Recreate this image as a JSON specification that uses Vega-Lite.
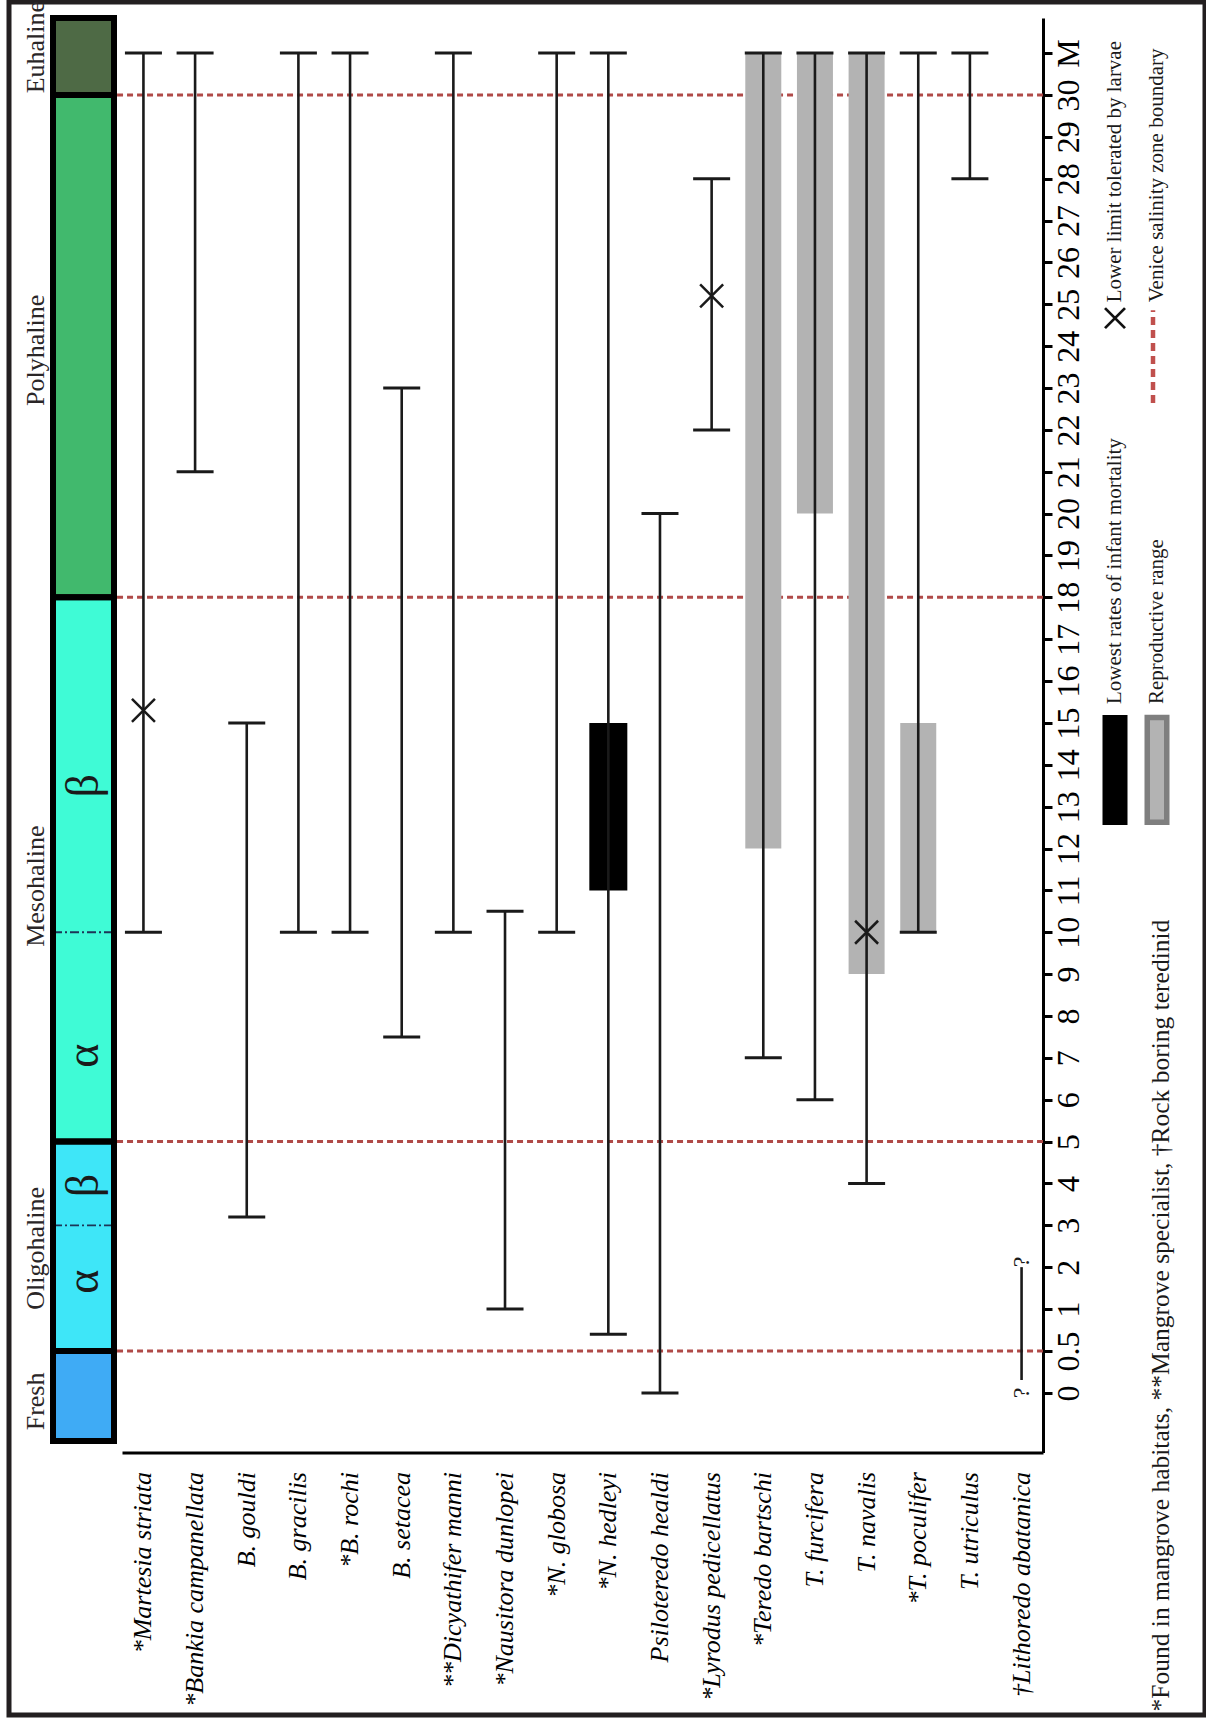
{
  "$schema": "https://vega.github.io/schema/vega-lite/v6.json",
  "width": 1196,
  "height": 1713,
  "autosize": {"type": "none"},
  "padding": {"left": 9, "top": 2, "right": 1, "bottom": 10},
  "background": "white",
  "config": {
    "view": {"stroke": "#231f20", "strokeWidth": 5},
    "font": "Liberation Serif"
  },
  "datasets": {
    "zones": [
      {"zone": "Fresh", "lo": -0.57, "hi": 0.5, "mid": -0.1},
      {"zone": "Oligohaline", "lo": 0.5, "hi": 5, "mid": 2.45},
      {"zone": "Mesohaline", "lo": 5, "hi": 18, "mid": 11.1},
      {"zone": "Polyhaline", "lo": 18, "hi": 30, "mid": 23.9},
      {"zone": "Euhaline", "lo": 30, "hi": 39.2, "mid": 35.7}
    ],
    "subzones": [
      {"zone": "Oligohaline", "sub": "α", "lo": 0.5, "hi": 3, "mid": 1.65},
      {"zone": "Oligohaline", "sub": "β", "lo": 3, "hi": 5, "mid": 3.95},
      {"zone": "Mesohaline", "sub": "α", "lo": 5, "hi": 10, "mid": 7.05},
      {"zone": "Mesohaline", "sub": "β", "lo": 10, "hi": 18, "mid": 13.5}
    ],
    "species": [
      {"species": "*Martesia striata", "lo": 10, "hi": 35},
      {"species": "*Bankia campanellata", "lo": 21, "hi": 35},
      {"species": "B. gouldi", "lo": 3.2, "hi": 15},
      {"species": "B. gracilis", "lo": 10, "hi": 35},
      {"species": "*B. rochi", "lo": 10, "hi": 35},
      {"species": "B. setacea", "lo": 7.5, "hi": 23},
      {"species": "**Dicyathifer manni", "lo": 10, "hi": 35},
      {"species": "*Nausitora dunlopei", "lo": 1, "hi": 10.5},
      {"species": "*N. globosa", "lo": 10, "hi": 35},
      {"species": "*N. hedleyi", "lo": 0.7, "hi": 35},
      {"species": "Psiloteredo healdi", "lo": 0, "hi": 20},
      {"species": "*Lyrodus pedicellatus", "lo": 22, "hi": 28},
      {"species": "*Teredo bartschi", "lo": 7, "hi": 35},
      {"species": "T. furcifera", "lo": 6, "hi": 35},
      {"species": "T. navalis", "lo": 4, "hi": 35},
      {"species": "*T. poculifer", "lo": 10, "hi": 35},
      {"species": "T. utriculus", "lo": 28, "hi": 35},
      {"species": "†Lithoredo abatanica", "lo": 0, "hi": 2}
    ],
    "reproduction": [
      {"species": "*Teredo bartschi", "lo": 12, "hi": 35},
      {"species": "T. furcifera", "lo": 20, "hi": 35},
      {"species": "T. navalis", "lo": 9, "hi": 35},
      {"species": "*T. poculifer", "lo": 10, "hi": 15}
    ],
    "mortality": [
      {"species": "*N. hedleyi", "lo": 11, "hi": 15}
    ],
    "larvae": [
      {"species": "*Martesia striata", "value": 15.3},
      {"species": "*Lyrodus pedicellatus", "value": 25.2},
      {"species": "T. navalis", "value": 10}
    ],
    "legend": [
      {"key": "mortality", "label": "Lowest rates of infant mortality"},
      {"key": "repro", "label": "Reproductive range"},
      {"key": "larvae", "label": "Lower limit tolerated by larvae"},
      {"key": "venice", "label": "Venice salinity zone boundary"},
      {"key": "note", "label": "*Found in mangrove habitats, **Mangrove specialist, †Rock boring teredinid"}
    ]
  },
  "resolve": {"scale": {"x": "independent", "y": "independent"}},
  "layer": [
    {
      "layer": [
        {
          "data": {"name": "zones"},
          "mark": {"type": "rect"},
          "encoding": {
            "x": {"datum": 0, "type": "quantitative", "scale": {"domain": [0, 1], "range": [44, 105], "nice": false, "zero": false}, "axis": null},
            "x2": {"datum": 1},
            "y": {"field": "lo", "type": "quantitative", "title": null, "axis": null,
                  "scale": {"domain": [-0.705, 0, 0.5, 1, 30, 35, 39.2], "range": [1450.5, 1391, 1349, 1307, 93, 51, 16], "nice": false, "zero": false}},
            "y2": {"field": "hi"},
            "color": {"field": "zone", "type": "nominal", "legend": null,
                      "scale": {"domain": ["Fresh", "Oligohaline", "Mesohaline", "Polyhaline", "Euhaline"],
                                "range": ["#3fabf5", "#3ee6f8", "#3ffbd6", "#41b96d", "#4e6a45"]}}
          }
        },
        {
          "data": {"name": "subzones"},
          "transform": [{"filter": "datum.sub === 'β'"}],
          "mark": {"type": "rule", "stroke": "#1d3557", "strokeWidth": 1.8, "strokeDash": [9, 3, 2, 3]},
          "encoding": {
            "x": {"datum": 0},
            "x2": {"datum": 1},
            "y": {"field": "lo", "type": "quantitative", "title": null}
          }
        },
        {
          "data": {"name": "zones"},
          "mark": {"type": "rect", "filled": false, "stroke": "black", "strokeWidth": 6},
          "encoding": {
            "x": {"datum": 0},
            "x2": {"datum": 1},
            "y": {"field": "lo", "type": "quantitative", "title": null},
            "y2": {"field": "hi"}
          }
        },
        {
          "data": {"name": "zones"},
          "mark": {"type": "text", "angle": -90, "align": "center", "baseline": "alphabetic", "dy": -9.5,
                   "font": "Liberation Serif", "fontSize": 26, "color": "#2a2627"},
          "encoding": {
            "x": {"datum": 0},
            "y": {"field": "mid", "type": "quantitative", "title": null},
            "text": {"field": "zone"}
          }
        },
        {
          "data": {"name": "subzones"},
          "mark": {"type": "text", "angle": -90, "align": "center", "baseline": "middle",
                   "font": "Liberation Serif", "fontSize": 46, "color": "#1a1a1a"},
          "encoding": {
            "x": {"datum": 0.5},
            "y": {"field": "mid", "type": "quantitative", "title": null},
            "text": {"field": "sub"}
          }
        }
      ]
    },
    {
      "layer": [
        {
          "data": {"name": "zones"},
          "transform": [{"filter": "datum.lo > 0"}],
          "mark": {"type": "rule", "stroke": "#b04a48", "strokeWidth": 3, "strokeDash": [6, 4], "xOffset": -26.4, "x2Offset": 21.4},
          "encoding": {
            "x": {"datum": "*Martesia striata", "type": "nominal",
                  "scale": {"type": "band",
                            "domain": ["*Martesia striata", "*Bankia campanellata", "B. gouldi", "B. gracilis", "*B. rochi", "B. setacea", "**Dicyathifer manni", "*Nausitora dunlopei", "*N. globosa", "*N. hedleyi", "Psiloteredo healdi", "*Lyrodus pedicellatus", "*Teredo bartschi", "T. furcifera", "T. navalis", "*T. poculifer", "T. utriculus", "†Lithoredo abatanica"],
                            "range": [113, 1034], "paddingInner": 0.17, "paddingOuter": 0},
                  "axis": {"orient": "bottom", "offset": -262.5, "title": null, "ticks": false, "tickSize": 0,
                           "domain": true, "domainColor": "black", "domainWidth": 3,
                           "labelAngle": -90, "labelAlign": "right", "labelBaseline": "middle", "labelPadding": 19,
                           "labelFont": "Liberation Serif", "labelFontStyle": "italic", "labelFontSize": 26,
                           "labelColor": "black", "labelLimit": 500, "grid": false}},
            "x2": {"datum": "†Lithoredo abatanica"},
            "y": {"field": "lo", "type": "quantitative", "title": null,
                  "scale": {"domain": [-0.705, 0, 0.5, 1, 30, 35, 39.2], "range": [1450.5, 1391, 1349, 1307, 93, 51, 16], "nice": false, "zero": false},
                  "axis": {"orient": "right", "offset": -162, "title": null, "grid": false,
                           "values": [0, 0.5, 1, 2, 3, 4, 5, 6, 7, 8, 9, 10, 11, 12, 13, 14, 15, 16, 17, 18, 19, 20, 21, 22, 23, 24, 25, 26, 27, 28, 29, 30, 35],
                           "labelExpr": "datum.value == 35 ? 'M' : '' + datum.value",
                           "domain": true, "domainColor": "black", "domainWidth": 3,
                           "ticks": true, "tickColor": "black", "tickWidth": 3, "tickSize": 9,
                           "labelAngle": -90, "labelAlign": "center", "labelBaseline": "top", "labelPadding": 1,
                           "labelFont": "Liberation Serif", "labelFontSize": 32, "labelColor": "black",
                           "labelOverlap": false, "labelFlush": false, "labelBound": false}}
          }
        },
        {
          "data": {"name": "reproduction"},
          "mark": {"type": "bar", "width": 36, "color": "#b3b3b3"},
          "encoding": {
            "x": {"field": "species", "type": "nominal", "title": null},
            "y": {"field": "lo", "type": "quantitative", "title": null},
            "y2": {"field": "hi"}
          }
        },
        {
          "data": {"name": "mortality"},
          "mark": {"type": "bar", "width": 38, "color": "black"},
          "encoding": {
            "x": {"field": "species", "type": "nominal", "title": null},
            "y": {"field": "lo", "type": "quantitative", "title": null},
            "y2": {"field": "hi"}
          }
        },
        {
          "data": {"name": "species"},
          "transform": [{"filter": "datum.species !== '†Lithoredo abatanica'"}],
          "mark": {"type": "rule", "color": "#1a1a1a", "strokeWidth": 2.6},
          "encoding": {
            "x": {"field": "species", "type": "nominal", "title": null},
            "y": {"field": "lo", "type": "quantitative", "title": null},
            "y2": {"field": "hi"}
          }
        },
        {
          "data": {"name": "species"},
          "transform": [{"filter": "datum.species !== '†Lithoredo abatanica'"}],
          "mark": {"type": "tick", "orient": "horizontal", "size": 37, "thickness": 3, "color": "#1a1a1a", "opacity": 1},
          "encoding": {
            "x": {"field": "species", "type": "nominal", "title": null},
            "y": {"field": "lo", "type": "quantitative", "title": null}
          }
        },
        {
          "data": {"name": "species"},
          "transform": [{"filter": "datum.species !== '†Lithoredo abatanica'"}],
          "mark": {"type": "tick", "orient": "horizontal", "size": 37, "thickness": 3, "color": "#1a1a1a", "opacity": 1},
          "encoding": {
            "x": {"field": "species", "type": "nominal", "title": null},
            "y": {"field": "hi", "type": "quantitative", "title": null}
          }
        },
        {
          "data": {"name": "species"},
          "transform": [{"filter": "datum.species === '†Lithoredo abatanica'"}],
          "mark": {"type": "rule", "color": "#1a1a1a", "strokeWidth": 2.6, "yOffset": -13},
          "encoding": {
            "x": {"field": "species", "type": "nominal", "title": null},
            "y": {"field": "lo", "type": "quantitative", "title": null},
            "y2": {"field": "hi"}
          }
        },
        {
          "data": {"name": "species"},
          "transform": [{"filter": "datum.species === '†Lithoredo abatanica'"}],
          "mark": {"type": "text", "angle": -90, "align": "center", "baseline": "middle", "font": "Liberation Serif", "fontSize": 24, "color": "#1a1a1a"},
          "encoding": {
            "x": {"field": "species", "type": "nominal", "title": null},
            "y": {"field": "lo", "type": "quantitative", "title": null},
            "text": {"value": "?"}
          }
        },
        {
          "data": {"name": "species"},
          "transform": [{"filter": "datum.species === '†Lithoredo abatanica'"}],
          "mark": {"type": "text", "angle": -90, "align": "left", "baseline": "middle", "font": "Liberation Serif", "fontSize": 24, "color": "#1a1a1a"},
          "encoding": {
            "x": {"field": "species", "type": "nominal", "title": null},
            "y": {"field": "hi", "type": "quantitative", "title": null},
            "text": {"value": "?"}
          }
        },
        {
          "data": {"name": "larvae"},
          "mark": {"type": "point", "shape": "M-1,-1L1,1M-1,1L1,-1", "size": 529, "filled": false, "stroke": "#1a1a1a", "strokeWidth": 2.5, "opacity": 1},
          "encoding": {
            "x": {"field": "species", "type": "nominal", "title": null},
            "y": {"field": "value", "type": "quantitative", "title": null}
          }
        }
      ]
    },
    {
      "layer": [
        {
          "data": {"name": "legend"},
          "transform": [{"filter": "datum.key === 'mortality'"}],
          "mark": {"type": "bar", "width": 25, "color": "black"},
          "encoding": {
            "x": {"datum": "left", "type": "nominal", "axis": null,
                  "scale": {"type": "point", "domain": ["left", "right"], "range": [1106, 1148], "padding": 0}},
            "y": {"datum": 12.56, "type": "quantitative", "axis": null,
                  "scale": {"domain": [-0.705, 0, 0.5, 1, 30, 35, 39.2], "range": [1450.5, 1391, 1349, 1307, 93, 51, 16], "nice": false, "zero": false}},
            "y2": {"datum": 15.19}
          }
        },
        {
          "data": {"name": "legend"},
          "transform": [{"filter": "datum.key === 'repro'"}],
          "mark": {"type": "bar", "width": 19.5, "fill": "#b3b3b3", "stroke": "#7f7f7f", "strokeWidth": 5.5},
          "encoding": {
            "x": {"datum": "right", "type": "nominal"},
            "y": {"datum": 12.63, "type": "quantitative"},
            "y2": {"datum": 15.13}
          }
        },
        {
          "data": {"name": "legend"},
          "transform": [{"filter": "datum.key === 'larvae'"}],
          "mark": {"type": "point", "shape": "M-1,-1L1,1M-1,1L1,-1", "size": 400, "filled": false, "stroke": "#111111", "strokeWidth": 2.8, "opacity": 1},
          "encoding": {
            "x": {"datum": "left", "type": "nominal"},
            "y": {"datum": 24.67, "type": "quantitative"}
          }
        },
        {
          "data": {"name": "legend"},
          "transform": [{"filter": "datum.key === 'venice'"}],
          "mark": {"type": "rule", "stroke": "#c0504d", "strokeWidth": 4.5, "strokeDash": [8, 5], "xOffset": -4},
          "encoding": {
            "x": {"datum": "right", "type": "nominal"},
            "y": {"datum": 22.64, "type": "quantitative"},
            "y2": {"datum": 24.86}
          }
        },
        {
          "data": {"name": "legend"},
          "transform": [{"filter": "datum.key === 'mortality'"}],
          "mark": {"type": "text", "angle": -90, "align": "left", "baseline": "middle", "font": "Liberation Serif", "fontSize": 21, "color": "#1a1a1a"},
          "encoding": {
            "x": {"datum": "left", "type": "nominal"},
            "y": {"datum": 15.45, "type": "quantitative"},
            "text": {"field": "label"}
          }
        },
        {
          "data": {"name": "legend"},
          "transform": [{"filter": "datum.key === 'repro'"}],
          "mark": {"type": "text", "angle": -90, "align": "left", "baseline": "middle", "font": "Liberation Serif", "fontSize": 21, "color": "#1a1a1a"},
          "encoding": {
            "x": {"datum": "right", "type": "nominal"},
            "y": {"datum": 15.45, "type": "quantitative"},
            "text": {"field": "label"}
          }
        },
        {
          "data": {"name": "legend"},
          "transform": [{"filter": "datum.key === 'larvae'"}],
          "mark": {"type": "text", "angle": -90, "align": "left", "baseline": "middle", "font": "Liberation Serif", "fontSize": 21, "color": "#1a1a1a"},
          "encoding": {
            "x": {"datum": "left", "type": "nominal"},
            "y": {"datum": 25.05, "type": "quantitative"},
            "text": {"field": "label"}
          }
        },
        {
          "data": {"name": "legend"},
          "transform": [{"filter": "datum.key === 'venice'"}],
          "mark": {"type": "text", "angle": -90, "align": "left", "baseline": "middle", "font": "Liberation Serif", "fontSize": 21, "color": "#1a1a1a"},
          "encoding": {
            "x": {"datum": "right", "type": "nominal"},
            "y": {"datum": 25.05, "type": "quantitative"},
            "text": {"field": "label"}
          }
        },
        {
          "data": {"name": "legend"},
          "transform": [{"filter": "datum.key === 'note'"}],
          "mark": {"type": "text", "angle": -90, "align": "right", "baseline": "middle", "dy": 4, "font": "Liberation Serif", "fontSize": 25.5, "color": "#1a1a1a"},
          "encoding": {
            "x": {"datum": "right", "type": "nominal"},
            "y": {"datum": 10.3, "type": "quantitative"},
            "text": {"field": "label"}
          }
        }
      ]
    }
  ]
}
